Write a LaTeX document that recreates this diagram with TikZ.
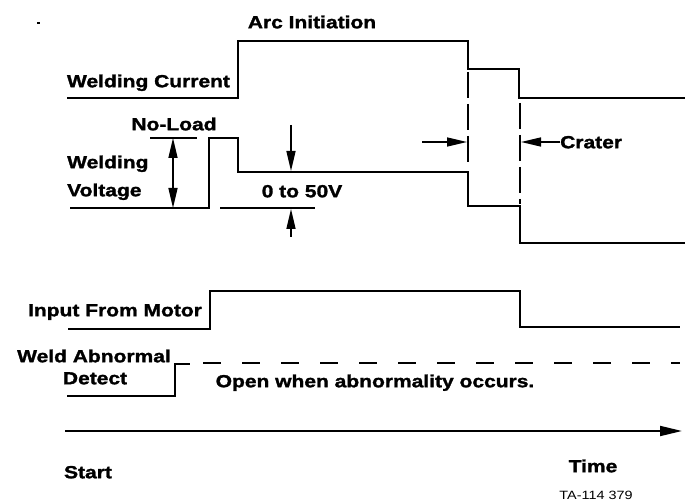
\documentclass[tikz,border=0pt]{standalone}
\usepackage{fontspec}
\setmainfont{Liberation Sans}[FakeStretch=1.2, BoldFeatures={FakeBold=1.6}]
\usetikzlibrary{arrows.meta}
\begin{document}
\begin{tikzpicture}[x=1pt,y=-1pt,
  sig/.style={line width=1.9pt, line join=miter, line cap=butt},
  lbl/.style={font=\fontsize{17.5}{21}\selectfont\bfseries, inner sep=0pt, text height=12.5pt, text depth=0pt},
  small/.style={font=\fontsize{12}{14}\selectfont, inner sep=0pt, text height=8.6pt, text depth=0pt},
  arr/.style={line width=1.5pt, -{Triangle[length=20pt,width=9pt]}},
  darr/.style={line width=1.5pt, {Triangle[length=20pt,width=9pt]}-{Triangle[length=20pt,width=9pt]}},
  vdash/.style={line width=1.9pt, dash pattern=on 26pt off 6pt},
  hdash/.style={line width=1.9pt, dash pattern=on 18pt off 21pt}]
\useasboundingbox (0,0) rectangle (686,502);

% stray mark
\fill (37,22) rectangle (40,24);

% labels
\node[lbl] (arc) at (312,22) {Arc Initiation};
\node[lbl] (wc) at (148.5,81) {Welding Current};
\node[lbl] (noload) at (174,124) {No-Load};
\node[lbl,anchor=west] (wv1) at (67,162) {Welding};
\node[lbl,anchor=west] (wv2) at (67,190) {Voltage};
\node[lbl] (v50) at (302,191) {0 to 50V};
\node[lbl,anchor=west] (crater) at (560,142) {Crater};
\node[lbl] (motor) at (115,310) {Input From Motor};
\node[lbl] (wab1) at (94,356) {Weld Abnormal};
\node[lbl] (wab2) at (95,378) {Detect};
\node[lbl] (open) at (375,381) {Open when abnormality occurs.};
\node[lbl] (start) at (88,472) {Start};
\node[lbl] (time) at (593,466) {Time};
\node[small] (ta) at (596,495) {TA-114 379};

% welding current
\draw[sig] (67,98) -- (238,98) -- (238,41) -- (468,41) -- (468,69) -- (519,69) -- (519,98) -- (685,98);
% welding voltage
\draw[sig] (70,208) -- (209,208) -- (209,138) -- (238,138) -- (238,172) -- (468,172) -- (468,206) -- (520,206) -- (520,243) -- (685,243);

% no-load bracket
\coordinate (nlA) at (173,138);
\coordinate (nlB) at (173,208);
\draw[line width=1.5pt] (150,138) -- (197,138);
\draw[darr] (nlA) -- (nlB);

% 0 to 50V
\coordinate (dT) at (291,125);
\coordinate (dB) at (291,171);
\coordinate (uT) at (291,209);
\coordinate (uB) at (291,237);
\draw[line width=1.5pt] (220,208) -- (315,208);
\draw[arr] (dT) -- (dB);
\draw[arr] (uB) -- (uT);

% crater
\draw[vdash] (468,72) -- (468,168);
\draw[vdash] (520,103) -- (520,204);
\coordinate (cl) at (422,142);
\coordinate (cr) at (467,142);
\coordinate (cr2) at (521,142);
\draw[arr] (cl) -- (cr);
\draw[arr] (crater.west) -- (cr2);

% input from motor
\draw[sig] (68,329) -- (210,329) -- (210,291) -- (520,291) -- (520,327) -- (680,327);

% weld abnormal detect
\draw[sig] (67,396) -- (175,396) -- (175,364) -- (190,364);
\draw[hdash] (203,363) -- (680,363);

% time axis
\coordinate (ax0) at (65,431);
\coordinate (ax1) at (682,431);
\draw[line width=1.9pt, -{Triangle[length=22pt,width=10pt]}] (ax0) -- (ax1);
\end{tikzpicture}
\end{document}
